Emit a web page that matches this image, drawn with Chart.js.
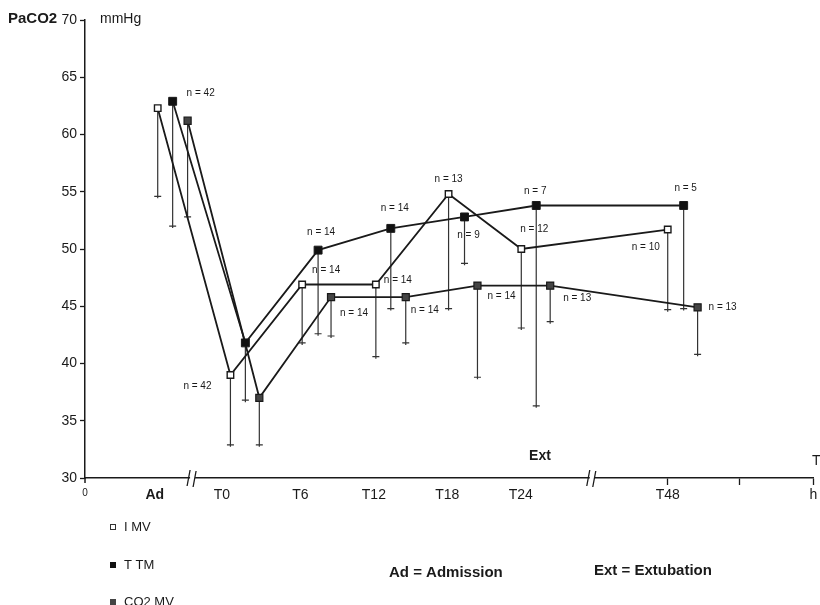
<!DOCTYPE html>
<html>
<head>
<meta charset="UTF-8">
<title>PaCO2</title>
<style>
    body { margin: 0; background: #fff; }
    #wrap { width: 820px; height: 605px; position: relative; }
</style>
</head>
<body>
<div id="wrap"><canvas id="chart"></canvas></div>

<script src="https://cdn.jsdelivr.net/npm/chart.js@4.4.0/dist/chart.umd.min.js"></script>
<script>
// x axis: position units (broken axis, so not real hours)
const tickNames = ["0", "Ad", "T0", "T6", "T12", "T18", "T24", "T48", "", "h"];
const tickPos   = [-11, -5.4, 0, 6.3, 12.2, 18.1, 24, 35.8, 41.6, 47.5];

// I MV (open squares)
const imvX   = [-5.16, 0.68, 6.44, 12.36, 18.2, 24.04, 35.8];
const imvY   = [62.3, 39.0, 46.9, 46.9, 54.8, 50.0, 51.7];
const imvLow = [54.6, 32.9, 41.8, 40.6, 44.8, 43.1, 44.7];
const imvN   = [null, 42, 14, 14, 13, 12, 10];

// T TM (filled squares)
const ttmX   = [-3.96, 1.88, 7.72, 13.56, 19.48, 25.24, 37.08];
const ttmY   = [62.9, 41.8, 49.9, 51.8, 52.8, 53.8, 53.8];
const ttmLow = [52.0, 36.8, 42.6, 44.8, 48.75, 36.3, 44.8];
const ttmN   = [42, null, 14, 14, 9, 7, 5];

// CO2 MV
const co2X   = [-2.76, 3.0, 8.76, 14.76, 20.52, 26.36, 38.2];
const co2Y   = [61.2, 37.0, 45.8, 45.8, 46.8, 46.8, 44.9];
const co2Low = [52.8, 32.9, 42.4, 41.8, 38.8, 43.65, 40.8];
const co2N   = [null, null, 14, 14, 14, 13, 13];

// where each "n = " label sits relative to its point (px)
const labelOffsets = [
    [null, [-33, 11], [24, -14], [22, -4], [0, -15], [13, -20], [-22, 18]],
    [[28, -8], null, [3, -18], [4, -20], [4, 18], [-1, -14], [2, -17]],
    [null, null, [23, 16], [19, 13], [24, 11], [27, 13], [25, 0]]
];
const breakPos = [-2.4, 29.7];

const INK = "#1a1a1a";
const FONT = "'Liberation Sans', Arial, sans-serif";

function pts(xs, ys) {
    return xs.map((x, i) => ({ x: x, y: ys[i] }));
}

const lows = [imvLow, ttmLow, co2Low];
const ns = [imvN, ttmN, co2N];

const decor = {
    id: "decor",
    beforeDatasetsDraw(chart) {
        const ctx = chart.ctx;
        const ys = chart.scales.y;
        ctx.save();
        ctx.strokeStyle = "#333";
        ctx.lineWidth = 1.2;
        lows.forEach((low, i) => {
            const meta = chart.getDatasetMeta(i);
            meta.data.forEach((p, j) => {
                const y1 = ys.getPixelForValue(low[j]);
                ctx.beginPath();
                ctx.moveTo(p.x, p.y);
                ctx.lineTo(p.x, y1 + 2);
                ctx.moveTo(p.x - 3.5, y1);
                ctx.lineTo(p.x + 3.5, y1);
                ctx.stroke();
            });
        });
        ctx.restore();
    },
    afterDraw(chart) {
        const ctx = chart.ctx;
        const xs = chart.scales.x;
        const area = chart.chartArea;
        ctx.save();
        ctx.fillStyle = INK;
        ctx.textBaseline = "middle";

        // n labels
        ctx.font = "10px " + FONT;
        ctx.textAlign = "center";
        ns.forEach((arr, i) => {
            const meta = chart.getDatasetMeta(i);
            arr.forEach((n, j) => {
                const off = labelOffsets[i][j];
                if (n === null || !off) return;
                const p = meta.data[j];
                ctx.fillText("n = " + n, p.x + off[0], p.y + off[1]);
            });
        });

        // axis breaks
        const yb = area.bottom;
        ctx.strokeStyle = INK;
        ctx.lineWidth = 1.3;
        breakPos.forEach(v => {
            const x = xs.getPixelForValue(v);
            ctx.fillStyle = "#fff";
            ctx.fillRect(x - 2, yb - 2, 5, 4);
            ctx.beginPath();
            ctx.moveTo(x - 5, yb + 8);
            ctx.lineTo(x - 2, yb - 8);
            ctx.moveTo(x + 1, yb + 9);
            ctx.lineTo(x + 4, yb - 7);
            ctx.stroke();
        });
        // origin overshoot of y axis
        ctx.lineWidth = 1.5;
        ctx.beginPath();
        ctx.moveTo(area.left, yb);
        ctx.lineTo(area.left, yb + 5);
        ctx.stroke();

        ctx.fillStyle = INK;
        // titles
        ctx.textAlign = "left";
        ctx.font = "bold 15px " + FONT;
        ctx.fillText("PaCO2", 8, 19);
        ctx.font = "14px " + FONT;
        ctx.fillText("mmHg", 100, 19);
        ctx.font = "bold 14px " + FONT;
        ctx.textAlign = "center";
        ctx.fillText("Ext", 540, 456);
        ctx.textAlign = "left";
        ctx.font = "14px " + FONT;
        ctx.fillText("T", 812, 461);

        // legend
        const legend = [["I MV", "open"], ["T TM", "fill"], ["CO2 MV", "grey"]];
        const ly = [527, 565, 602];
        ctx.font = "13px " + FONT;
        legend.forEach((l, i) => {
            const y = ly[i];
            ctx.lineWidth = 1;
            ctx.strokeStyle = "#333";
            if (l[1] === "open") {
                ctx.strokeRect(110.5, y - 2.5, 5, 5);
            } else {
                ctx.fillStyle = l[1] === "fill" ? "#111" : "#444";
                ctx.fillRect(110, y - 3, 6, 6);
            }
            ctx.fillStyle = INK;
            ctx.fillText(l[0], 124, y);
        });
        ctx.font = "bold 15px " + FONT;
        ctx.fillText("Ad = Admission", 389, 573);
        ctx.fillText("Ext = Extubation", 594, 571);
        ctx.restore();
    }
};

const lineBase = {
    borderColor: INK,
    borderWidth: 1.8,
    tension: 0,
    pointStyle: "rect",
    pointBorderColor: INK
};

new Chart(document.getElementById("chart"), {
    type: "line",
    data: {
        datasets: [
            Object.assign({}, lineBase, {
                label: "I MV", data: pts(imvX, imvY),
                pointRadius: 4.6, pointBorderWidth: 1.4, pointBackgroundColor: "#fff"
            }),
            Object.assign({}, lineBase, {
                label: "T TM", data: pts(ttmX, ttmY),
                pointRadius: 5.6, pointBorderWidth: 1, pointBackgroundColor: "#111"
            }),
            Object.assign({}, lineBase, {
                label: "CO2 MV", data: pts(co2X, co2Y),
                pointRadius: 5, pointBorderWidth: 1.2, pointBackgroundColor: "#444"
            })
        ]
    },
    options: {
        responsive: true,
        maintainAspectRatio: false,
        animation: false,
        layout: { padding: { top: 20, right: 4, left: 0, bottom: 0 } },
        plugins: { legend: { display: false }, tooltip: { enabled: false } },
        scales: {
            x: {
                type: "linear",
                min: -11,
                max: 47.5,
                afterFit: s => { s.height = 127; },
                afterBuildTicks: s => { s.ticks = tickPos.map(v => ({ value: v })); },
                border: { color: INK, width: 1.5 },
                grid: {
                    drawOnChartArea: false,
                    tickLength: 7,
                    tickWidth: 1.3,
                    tickColor: c => (c.tick && c.tick.value > 30 ? INK : "rgba(0,0,0,0)")
                },
                ticks: {
                    padding: 2,
                    maxRotation: 0,
                    autoSkip: false,
                    color: INK,
                    font: c => {
                        const i = c.index;
                        if (tickNames[i] === "0") return { family: FONT, size: 10 };
                        if (tickNames[i] === "Ad") return { family: FONT, size: 14, weight: "bold" };
                        return { family: FONT, size: 14 };
                    },
                    callback: (v, i) => tickNames[i]
                }
            },
            y: {
                min: 30,
                max: 70,
                afterFit: s => { s.width = 85; },
                border: { color: INK, width: 1.5 },
                grid: { drawOnChartArea: false, tickLength: 5, tickColor: INK, tickWidth: 1.3 },
                ticks: {
                    stepSize: 5,
                    padding: 3,
                    color: INK,
                    font: { family: FONT, size: 14 }
                }
            }
        }
    },
    plugins: [decor]
});
</script>
</body>
</html>
